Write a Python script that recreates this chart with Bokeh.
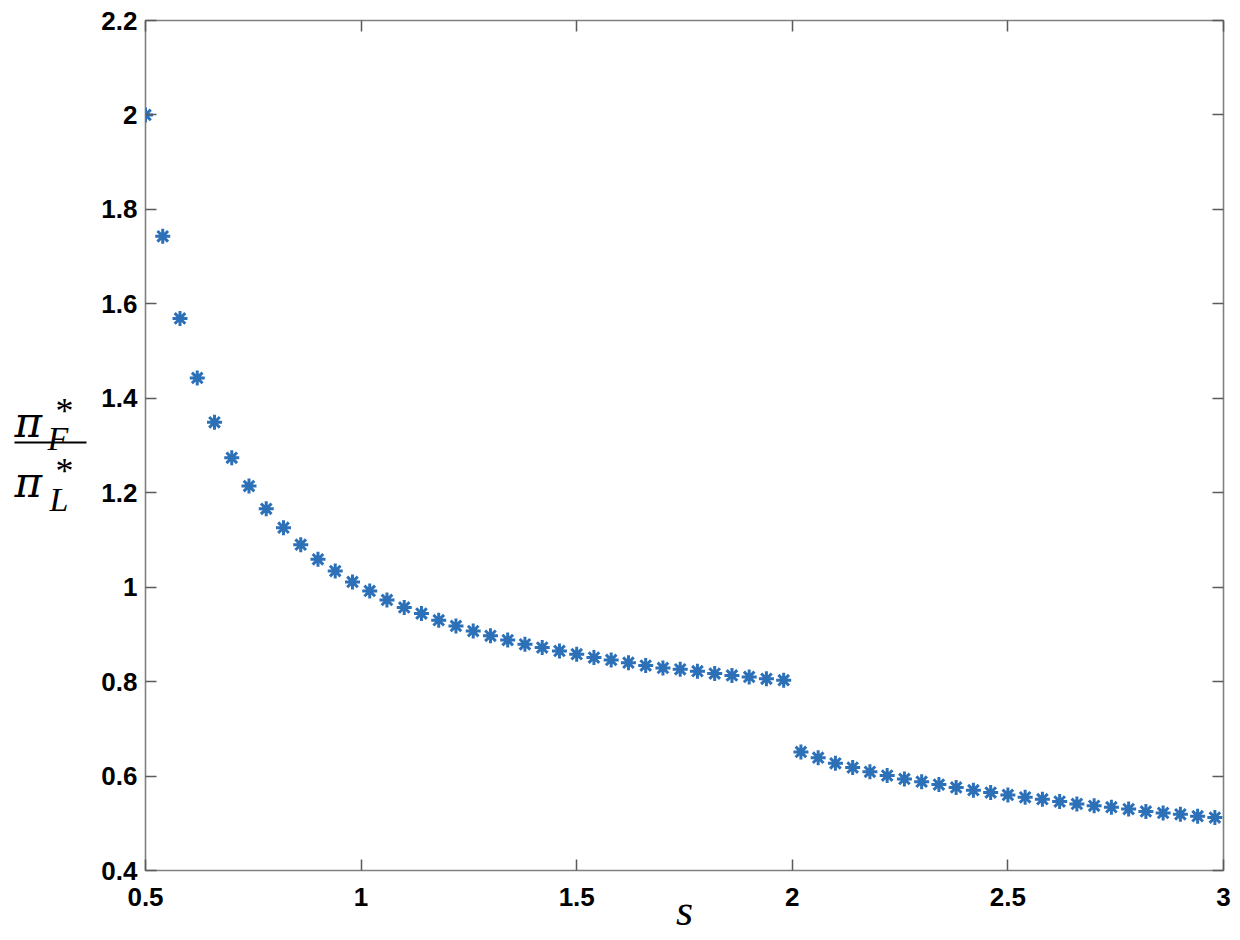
from bokeh.plotting import figure
from bokeh.layouts import row
from bokeh.models import FixedTicker, LinearAxis, CustomJSTickFormatter, Range1d
from bokeh.core.properties import value
from bokeh.embed import file_html
from bokeh.resources import INLINE

# ---- data ----
s_low = [0.50, 0.54, 0.58, 0.62, 0.66, 0.70, 0.74, 0.78, 0.82, 0.86, 0.90, 0.94, 0.98,
         1.02, 1.06, 1.10, 1.14, 1.18, 1.22, 1.26, 1.30, 1.34, 1.38, 1.42, 1.46, 1.50,
         1.54, 1.58, 1.62, 1.66, 1.70, 1.74, 1.78, 1.82, 1.86, 1.90, 1.94, 1.98]
ratio_low = [2.000, 1.743, 1.569, 1.443, 1.349, 1.274, 1.214, 1.166, 1.126, 1.090, 1.059,
             1.034, 1.011, 0.992, 0.973, 0.957, 0.944, 0.930, 0.918, 0.907, 0.897, 0.888,
             0.879, 0.872, 0.865, 0.858, 0.851, 0.846, 0.840, 0.834, 0.829, 0.826, 0.822,
             0.817, 0.813, 0.810, 0.806, 0.803]
s_high = [2.02, 2.06, 2.10, 2.14, 2.18, 2.22, 2.26, 2.30, 2.34, 2.38, 2.42, 2.46, 2.50,
          2.54, 2.58, 2.62, 2.66, 2.70, 2.74, 2.78, 2.82, 2.86, 2.90, 2.94, 2.98]
ratio_high = [0.651, 0.639, 0.627, 0.618, 0.609, 0.601, 0.594, 0.588, 0.582, 0.576, 0.570,
              0.565, 0.560, 0.555, 0.551, 0.546, 0.541, 0.537, 0.534, 0.530, 0.525, 0.522,
              0.519, 0.515, 0.512]

x_ticks = [0.5, 1.0, 1.5, 2.0, 2.5, 3.0]
x_tick_labels = ["0.5", "1", "1.5", "2", "2.5", "3"]
y_ticks = [0.4, 0.6, 0.8, 1.0, 1.2, 1.4, 1.6, 1.8, 2.0, 2.2]
y_tick_labels = ["0.4", "0.6", "0.8", "1", "1.2", "1.4", "1.6", "1.8", "2", "2.2"]

x_title = "s"
# y title: fraction pi*_F / pi*_L
y_num = ["π", "*", "F"]
y_den = ["π", "*", "L"]

MARK = "#2C70B8"
FRAME = "#808080"
TICK = "#5a5a5a"
LW = 90   # width of the side panel carrying the y title

p = figure(width=1240 - LW, height=940, output_backend="svg", toolbar_location=None,
           x_range=Range1d(0.5, 3.0), y_range=Range1d(0.4, 2.2),
           min_border_left=145 - LW, min_border_right=17, min_border_top=20, min_border_bottom=70,
           x_axis_location=None, y_axis_location=None)
p.grid.visible = False
p.background_fill_color = "white"
p.border_fill_color = "white"
p.outline_line_color = FRAME
p.outline_line_width = 1.6

empty_fmt = CustomJSTickFormatter(code="return ''")

def style_axis(ax, labels):
    ax.axis_line_color = None
    ax.major_tick_in = 11
    ax.major_tick_out = 0
    ax.minor_tick_line_color = None
    ax.major_tick_line_color = TICK
    ax.major_tick_line_width = 1.5
    if labels:
        ax.major_label_text_font = "Liberation Sans"
        ax.major_label_text_font_style = "bold"
        ax.major_label_text_font_size = "26px"
        ax.major_label_text_color = "black"
    else:
        ax.formatter = empty_fmt
        ax.major_label_standoff = 0

xb = LinearAxis(ticker=FixedTicker(ticks=x_ticks),
                major_label_overrides={t: l for t, l in zip(x_ticks, x_tick_labels)})
style_axis(xb, True)
xb.major_label_standoff = 17
xb.axis_label = x_title
xb.axis_label_text_font = "Liberation Serif"
xb.axis_label_text_font_style = "italic"
xb.axis_label_text_font_size = "44px"
xb.axis_label_text_color = "black"
xb.axis_label_standoff = -23
p.add_layout(xb, "below")

yl = LinearAxis(ticker=FixedTicker(ticks=y_ticks),
                major_label_overrides={t: l for t, l in zip(y_ticks, y_tick_labels)})
style_axis(yl, True)
yl.major_label_standoff = 8
p.add_layout(yl, "left")

xt = LinearAxis(ticker=FixedTicker(ticks=x_ticks))
style_axis(xt, False)
p.add_layout(xt, "above")
yr = LinearAxis(ticker=FixedTicker(ticks=y_ticks))
style_axis(yr, False)
p.add_layout(yr, "right")

p.scatter(s_low, ratio_low, marker="asterisk", size=15, line_width=3, line_color=MARK)
p.scatter(s_high, ratio_high, marker="asterisk", size=15, line_width=3, line_color=MARK)

# ---- side panel with the y title; its frame is aligned with p's (page y 20..870),
#      so its ranges map 1:1 to page pixels ----
q = figure(width=LW, height=940, output_backend="svg", toolbar_location=None,
           x_range=Range1d(0, LW), y_range=Range1d(870, 20),
           min_border=0, min_border_top=20, min_border_bottom=70,
           x_axis_location=None, y_axis_location=None)
q.grid.visible = False
q.outline_line_color = None
q.background_fill_color = "white"
q.border_fill_color = "white"

def t(txt, x, y, size, style="normal", font="Liberation Serif"):
    q.text(x=[x], y=[y], text=[txt], text_font=value(font),
           text_font_size=size, text_font_style=style, text_align="left",
           text_baseline="alphabetic", text_color="black")

t(y_num[0], 14, 422, "42px", "italic", "DejaVu Serif")
t(y_num[1], 55, 410, "36px")
t(y_num[2], 47, 438, "34px", "italic")
t(y_den[0], 14, 482, "42px", "italic", "DejaVu Serif")
t(y_den[1], 55, 470, "36px")
t(y_den[2], 49, 499, "34px", "italic")
q.segment(x0=[14], y0=[442], x1=[86], y1=[442], line_width=2.2, line_color="black")

layout = row(q, p, spacing=0)
open("out.html", "w").write(file_html(layout, INLINE))
